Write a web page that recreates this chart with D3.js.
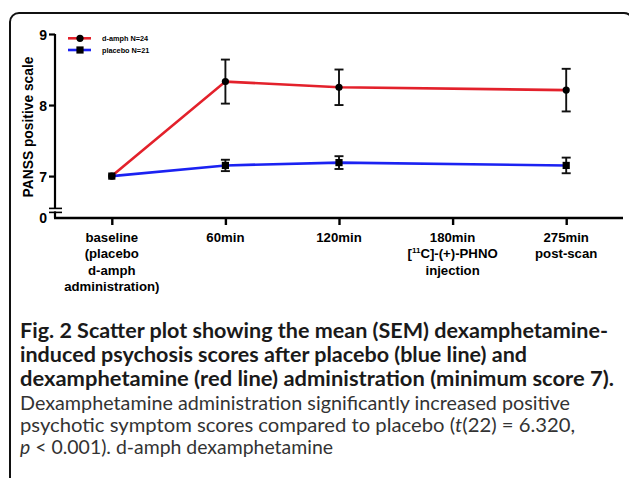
<!DOCTYPE html>
<html>
<head>
<meta charset="utf-8">
<script src="https://cdn.jsdelivr.net/npm/d3@7"></script>
<style>
  html, body { margin: 0; padding: 0; background: #fff; }
  svg { display: block; }
  .chart text { font-family: "Liberation Sans", Arial, sans-serif; font-weight: bold; fill: #000; }
  .caption text { font-family: "Lato", "Open Sans", sans-serif; }
</style>
</head>
<body>
<svg id="fig" width="629" height="478"></svg>
<script>
const categories = ["baseline", "60min", "120min", "180min", "275min"];
const xLabels = [
  ["baseline", "(placebo", "d-amph", "administration)"],
  ["60min"],
  ["120min"],
  ["180min", "[11C]-(+)-PHNO", "injection"],
  ["275min", "post-scan"]
];
const yTicks = [7, 8, 9];
const dampMean = [7, 8.33, 8.25, null, 8.21];
const dampSem = [0, 0.31, 0.25, null, 0.30];
const placeboMean = [7, 7.15, 7.19, null, 7.15];
const placeboSem = [0, 0.08, 0.09, null, 0.11];
const seriesNames = ["d-amph N=24", "placebo N=21"];

const svg = d3.select("#fig");

// rounded frame round the figure
svg.append("rect")
  .attr("x", 10).attr("y", 13)
  .attr("width", 623).attr("height", 480)
  .attr("rx", 9)
  .attr("fill", "none").attr("stroke", "#111").attr("stroke-width", 2);

const g = svg.append("g").attr("class", "chart");

const x = d3.scalePoint().domain(categories).range([55, 623]).padding(0.5);
const y = d3.scaleLinear().domain([6.41, 9]).range([218, 34]);

// y axis
const yAxis = g.append("g").attr("transform", "translate(55,0)")
  .call(d3.axisLeft(y).tickValues(yTicks).tickSize(6).tickFormat(d3.format("d")));
yAxis.select(".domain").attr("d", "M0," + y(9) + "V218");
yAxis.selectAll("path, line").attr("stroke", "#000").attr("stroke-width", 2.2);
yAxis.selectAll("text").attr("font-size", 14).attr("x", -8).attr("dy", "0.36em");

// axis break and the 0 label
g.append("rect").attr("x", 50).attr("y", 218 - 9.6).attr("width", 12).attr("height", 3).attr("fill", "#fff");
[9.6, 5.6].forEach(o => {
  g.append("line").attr("x1", 49).attr("x2", 62)
    .attr("y1", 218 - o).attr("y2", 218 - o)
    .attr("stroke", "#000").attr("stroke-width", 1.6);
});
g.append("text").attr("x", 47).attr("y", 218).attr("dy", "0.36em")
  .attr("text-anchor", "end").attr("font-size", 14).text("0");

// x axis
const xAxis = g.append("g").attr("transform", "translate(0,218)")
  .call(d3.axisBottom(x).tickSize(7).tickSizeOuter(0).tickFormat(""));
xAxis.selectAll("path, line").attr("stroke", "#000").attr("stroke-width", 2.4);
xAxis.select(".domain").attr("d", "M54,0H623");

const xl = g.append("g");
categories.forEach((c, i) => {
  const t = xl.append("text").attr("x", x(c)).attr("y", 242)
    .attr("text-anchor", "middle").attr("font-size", 13.2);
  xLabels[i].forEach((line, j) => {
    const ts = t.append("tspan").attr("x", x(c)).attr("dy", j === 0 ? 0 : 16.3);
    const m = line.match(/^\[(\d+)(.*)$/);
    if (m) {
      ts.text("[");
      t.append("tspan").attr("font-size", 8).attr("dy", -5).text(m[1]);
      t.append("tspan").attr("dy", 5).text(m[2]);
    } else {
      ts.text(line);
    }
  });
});

// y title
g.append("text")
  .attr("transform", "translate(33,127) rotate(-90)")
  .attr("text-anchor", "middle").attr("font-size", 13.8)
  .text("PANSS positive scale");

// series
const series = [
  { mean: dampMean, sem: dampSem, color: "#e3212b", shape: "circle" },
  { mean: placeboMean, sem: placeboSem, color: "#1b22f2", shape: "square" }
];
const line = d3.line().x(d => x(d.c)).y(d => y(d.v));

series.forEach(s => {
  const pts = categories.map((c, i) => ({ c: c, v: s.mean[i], e: s.sem[i] }))
    .filter(d => d.v !== null);
  g.append("path").datum(pts).attr("d", line)
    .attr("fill", "none").attr("stroke", s.color).attr("stroke-width", 2.6);
});

series.forEach(s => {
  const pts = categories.map((c, i) => ({ c: c, v: s.mean[i], e: s.sem[i] }))
    .filter(d => d.v !== null);
  const eb = g.append("g").attr("stroke", "#111").attr("stroke-width", 1.9);
  pts.filter(d => d.e > 0).forEach(d => {
    eb.append("line").attr("x1", x(d.c)).attr("x2", x(d.c))
      .attr("y1", y(d.v - d.e)).attr("y2", y(d.v + d.e));
    [d.v - d.e, d.v + d.e].forEach(v => {
      eb.append("line").attr("x1", x(d.c) - 4.5).attr("x2", x(d.c) + 4.5)
        .attr("y1", y(v)).attr("y2", y(v));
    });
  });
  pts.forEach(d => {
    if (s.shape === "circle") {
      g.append("circle").attr("cx", x(d.c)).attr("cy", y(d.v)).attr("r", 3.6).attr("fill", "#000");
    } else {
      g.append("rect").attr("x", x(d.c) - 3.6).attr("y", y(d.v) - 3.6)
        .attr("width", 7.2).attr("height", 7.2).attr("fill", "#000");
    }
  });
});

// legend
series.forEach((s, i) => {
  const ly = 38.3 + i * 11.7;
  g.append("line").attr("x1", 68).attr("x2", 91).attr("y1", ly).attr("y2", ly)
    .attr("stroke", s.color).attr("stroke-width", 2.6);
  if (s.shape === "circle") {
    g.append("circle").attr("cx", 80).attr("cy", ly).attr("r", 3.6).attr("fill", "#000");
  } else {
    g.append("rect").attr("x", 76.4).attr("y", ly - 3.6).attr("width", 7.2).attr("height", 7.2).attr("fill", "#000");
  }
  g.append("text").attr("x", 102).attr("y", ly).attr("dy", "0.35em")
    .attr("font-size", 7.3).text(seriesNames[i]);
});

// caption
const cap = svg.append("g").attr("class", "caption");
const boldLines = [
  ["Fig. 2 Scatter plot showing the mean (SEM) dexamphetamine-", 588],
  ["induced psychosis scores after placebo (blue line) and", 507],
  ["dexamphetamine (red line) administration (minimum score 7).", 594]
];
boldLines.forEach((t, i) => {
  cap.append("text").attr("x", 20).attr("y", 338 + i * 24)
    .attr("font-size", 21.5).attr("font-weight", "bold").attr("fill", "#1a1a1a")
    .attr("textLength", t[1]).attr("lengthAdjust", "spacingAndGlyphs").text(t[0]);
});
const regLines = [
  [[["Dexamphetamine administration significantly increased positive", false]], 550],
  [[["psychotic symptom scores compared to placebo (", false], ["t", true], ["(22) = 6.320,", false]], 555],
  [[["p", true], [" < 0.001). d-amph dexamphetamine", false]], 313]
];
regLines.forEach((r, i) => {
  const t = cap.append("text").attr("x", 20).attr("y", 409.5 + i * 22)
    .attr("font-size", 19).attr("fill", "#333")
    .attr("textLength", r[1]).attr("lengthAdjust", "spacingAndGlyphs");
  r[0].forEach(p => t.append("tspan").attr("font-style", p[1] ? "italic" : "normal").text(p[0]));
});
</script>
</body>
</html>
